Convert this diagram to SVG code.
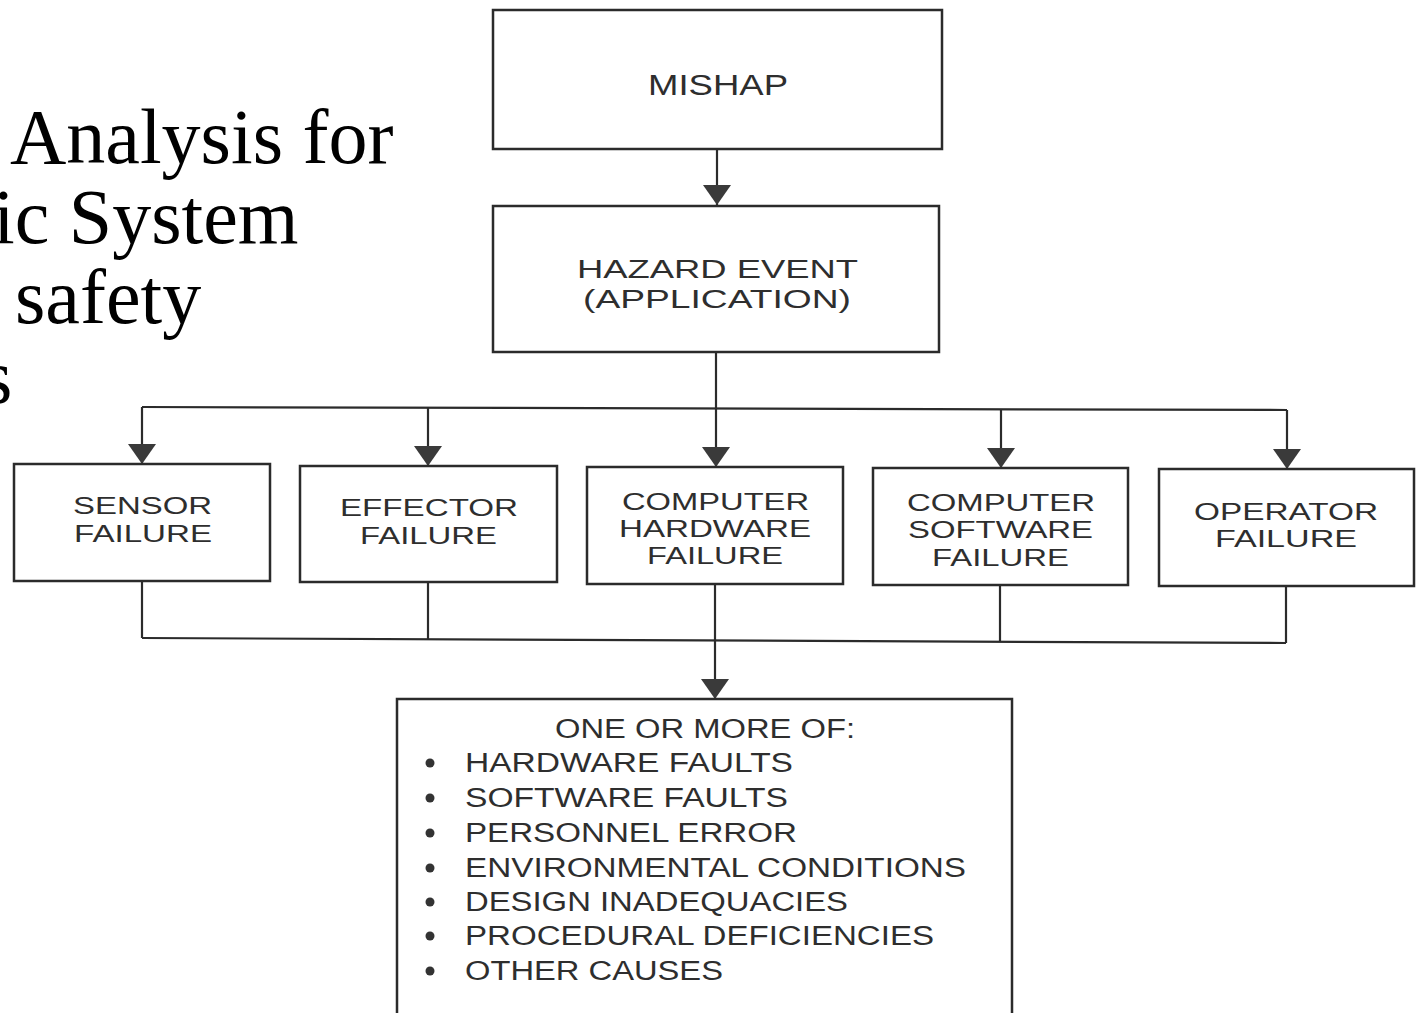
<svg xmlns="http://www.w3.org/2000/svg" width="1420" height="1013" viewBox="0 0 1420 1013">
<style>
.title{font-family:"Liberation Serif","Times New Roman",serif;font-size:78px;fill:#000}
.box{fill:#fff;stroke:#2b2b2b;stroke-width:2.5}
.lbl{font-family:"Liberation Sans",Arial,sans-serif;fill:#2e2e2e;text-anchor:middle}
.sm{font-size:24px}
.md{font-size:26px}
.lg{font-size:29px}
.item{font-family:"Liberation Sans",Arial,sans-serif;font-size:27px;fill:#2e2e2e}
.wire{fill:none;stroke:#2b2b2b;stroke-width:2.2}
.dot{fill:#333}
</style>
<defs>
<marker id="arr" viewBox="0 0 20 28" refX="20" refY="14" markerWidth="20" markerHeight="28" markerUnits="userSpaceOnUse" orient="auto">
<path d="M0,0 L20,14 L0,28 z" fill="#3a3a3a"/>
</marker>
<clipPath id="tclip"><rect x="0" y="0" width="480" height="405"/></clipPath>
</defs>
<rect width="1420" height="1013" fill="#fff"/>
<g id="slide-title" clip-path="url(#tclip)">
<text class="title" x="10" y="163">Analysis for</text>
<text class="title" x="-7" y="243">ic System</text>
<text class="title" x="15" y="323">safety</text>
<text class="title" x="-18" y="403">s</text>
</g>
<g id="connectors">
<line class="wire" x1="717" y1="149" x2="717" y2="205" marker-end="url(#arr)"/>
<line class="wire" x1="716" y1="352" x2="716" y2="408"/>
<line class="wire" x1="142" y1="407" x2="1287" y2="410"/>
<line class="wire" x1="142" y1="407" x2="142" y2="464" marker-end="url(#arr)"/>
<line class="wire" x1="428" y1="408" x2="428" y2="466" marker-end="url(#arr)"/>
<line class="wire" x1="716" y1="408" x2="716" y2="467" marker-end="url(#arr)"/>
<line class="wire" x1="1001" y1="409" x2="1001" y2="468" marker-end="url(#arr)"/>
<line class="wire" x1="1287" y1="410" x2="1287" y2="469" marker-end="url(#arr)"/>
<line class="wire" x1="142" y1="581" x2="142" y2="638"/>
<line class="wire" x1="428" y1="582" x2="428" y2="639"/>
<line class="wire" x1="1000" y1="585" x2="1000" y2="642"/>
<line class="wire" x1="1286" y1="586" x2="1286" y2="643"/>
<line class="wire" x1="142" y1="638" x2="1286" y2="643"/>
<line class="wire" x1="715" y1="584" x2="715" y2="699" marker-end="url(#arr)"/>
</g>
<g id="mishap">
<rect class="box" x="493" y="10" width="449" height="139"/>
<text class="lbl lg" x="718" y="95" textLength="140" lengthAdjust="spacingAndGlyphs">MISHAP</text>
</g>
<g id="hazard-event">
<rect class="box" x="493" y="206" width="446" height="146"/>
<text class="lbl md" x="717.5" y="278" textLength="281" lengthAdjust="spacingAndGlyphs">HAZARD EVENT</text>
<text class="lbl md" x="717" y="308" textLength="268" lengthAdjust="spacingAndGlyphs">(APPLICATION)</text>
</g>
<g id="sensor-failure">
<rect class="box" x="14" y="464" width="256" height="117"/>
<text class="lbl sm" x="142.5" y="514" textLength="139" lengthAdjust="spacingAndGlyphs">SENSOR</text>
<text class="lbl sm" x="143" y="542" textLength="138" lengthAdjust="spacingAndGlyphs">FAILURE</text>
</g>
<g id="effector-failure">
<rect class="box" x="300" y="466" width="257" height="116"/>
<text class="lbl sm" x="429" y="516" textLength="178" lengthAdjust="spacingAndGlyphs">EFFECTOR</text>
<text class="lbl sm" x="428.5" y="544" textLength="137" lengthAdjust="spacingAndGlyphs">FAILURE</text>
</g>
<g id="computer-hardware-failure">
<rect class="box" x="587" y="467" width="256" height="117"/>
<text class="lbl sm" x="715.5" y="510" textLength="187" lengthAdjust="spacingAndGlyphs">COMPUTER</text>
<text class="lbl sm" x="715" y="537" textLength="192" lengthAdjust="spacingAndGlyphs">HARDWARE</text>
<text class="lbl sm" x="715" y="564" textLength="136" lengthAdjust="spacingAndGlyphs">FAILURE</text>
</g>
<g id="computer-software-failure">
<rect class="box" x="873" y="468" width="255" height="117"/>
<text class="lbl sm" x="1001" y="511" textLength="188" lengthAdjust="spacingAndGlyphs">COMPUTER</text>
<text class="lbl sm" x="1000.5" y="538" textLength="185" lengthAdjust="spacingAndGlyphs">SOFTWARE</text>
<text class="lbl sm" x="1000.5" y="566" textLength="137" lengthAdjust="spacingAndGlyphs">FAILURE</text>
</g>
<g id="operator-failure">
<rect class="box" x="1159" y="469" width="255" height="117"/>
<text class="lbl sm" x="1286" y="520" textLength="184" lengthAdjust="spacingAndGlyphs">OPERATOR</text>
<text class="lbl sm" x="1286" y="547" textLength="142" lengthAdjust="spacingAndGlyphs">FAILURE</text>
</g>
<g id="causes">
<rect class="box" x="397" y="699" width="615" height="340"/>
<text class="item" x="555" y="738" textLength="300" lengthAdjust="spacingAndGlyphs">ONE OR MORE OF:</text>
<circle class="dot" cx="430" cy="763" r="4.5"/>
<text class="item" x="465" y="772" textLength="328" lengthAdjust="spacingAndGlyphs">HARDWARE FAULTS</text>
<circle class="dot" cx="430" cy="798" r="4.5"/>
<text class="item" x="465" y="807" textLength="323" lengthAdjust="spacingAndGlyphs">SOFTWARE FAULTS</text>
<circle class="dot" cx="430" cy="833" r="4.5"/>
<text class="item" x="465" y="842" textLength="332" lengthAdjust="spacingAndGlyphs">PERSONNEL ERROR</text>
<circle class="dot" cx="430" cy="868" r="4.5"/>
<text class="item" x="465" y="877" textLength="501" lengthAdjust="spacingAndGlyphs">ENVIRONMENTAL CONDITIONS</text>
<circle class="dot" cx="430" cy="902" r="4.5"/>
<text class="item" x="465" y="911" textLength="383" lengthAdjust="spacingAndGlyphs">DESIGN INADEQUACIES</text>
<circle class="dot" cx="430" cy="936" r="4.5"/>
<text class="item" x="465" y="945" textLength="469" lengthAdjust="spacingAndGlyphs">PROCEDURAL DEFICIENCIES</text>
<circle class="dot" cx="430" cy="971" r="4.5"/>
<text class="item" x="465" y="980" textLength="258" lengthAdjust="spacingAndGlyphs">OTHER CAUSES</text>
</g>
</svg>
